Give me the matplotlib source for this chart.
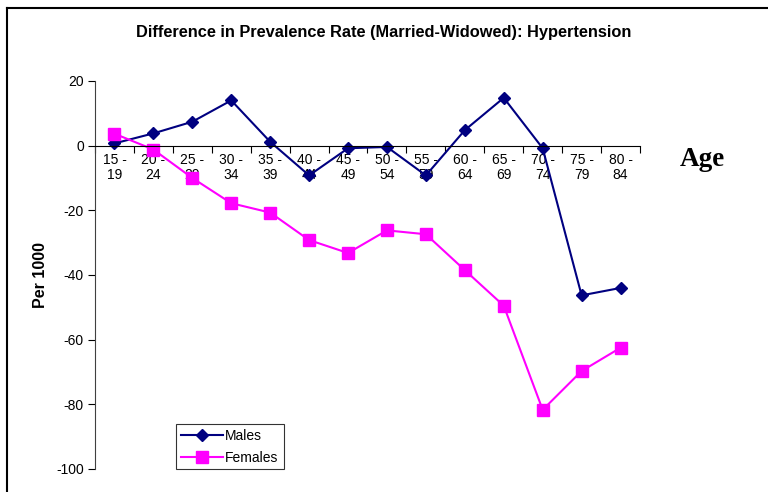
import matplotlib
matplotlib.use('Agg')
import matplotlib.pyplot as plt
from matplotlib.lines import Line2D

age_groups = ['15 -\n19', '20 -\n24', '25 -\n29', '30 -\n34', '35 -\n39', '40 -\n44', '45 -\n49',
              '50 -\n54', '55 -\n59', '60 -\n64', '65 -\n69', '70 -\n74', '75 -\n79', '80 -\n84']
males = [0.7, 3.8, 7.4, 14.0, 1.2, -9.2, -0.8, -0.4, -9.2, 4.8, 14.8, -0.8, -46.3, -44.0]
females = [3.7, -1.2, -10.0, -17.8, -20.7, -29.2, -33.2, -26.2, -27.4, -38.5, -49.5, -81.7, -69.7, -62.5]

plt.rcParams['font.family'] = ['Liberation Sans', 'DejaVu Sans']
plt.rcParams['axes.unicode_minus'] = False

fig = plt.figure(figsize=(7.68, 4.92), dpi=100)
W, H = 768, 492
ax = fig.add_axes([95 / W, 1 - 469 / H, (640 - 95) / W, (469 - 81) / H])

x = list(range(len(age_groups)))
ax.plot(x, males, color='#000080', marker='D', markersize=6, linewidth=1.5, label='Males')
ax.plot(x, females, color='#FF00FF', marker='s', markersize=8, linewidth=1.5, label='Females')

ax.set_xlim(-0.5, len(age_groups) - 0.5)
ax.set_ylim(-100, 20)
ax.set_yticks(range(-100, 21, 20))
ax.tick_params(axis='y', direction='out', length=5, width=0.8, labelsize=10, pad=3)

ax.spines['top'].set_visible(False)
ax.spines['right'].set_visible(False)
ax.spines['bottom'].set_position(('data', 0))
ax.spines['left'].set_color('#404040')

ax.set_xticks(x)
ax.set_xticklabels(age_groups, fontsize=10, linespacing=1.15)
ax.tick_params(axis='x', which='major', length=0, pad=5)
ax.set_xticks([i - 0.5 for i in range(len(age_groups) + 1)], minor=True)
ax.tick_params(axis='x', which='minor', direction='out', length=5, width=0.8)

ax.set_ylabel('Per 1000', fontsize=11.5, fontweight='bold', labelpad=6)
fig.text(0.5, 1 - 32 / H, 'Difference in Prevalence Rate (Married-Widowed): Hypertension',
         ha='center', va='center', fontsize=11.8, fontweight='bold')
fig.text(702 / W, 1 - 160 / H, 'Age', ha='center', va='center', fontsize=19.5,
         fontweight='bold', family='Liberation Serif')

leg = ax.legend(loc='upper left', bbox_to_anchor=((176 - 95) / 545, (469 - 424) / 388),
                borderaxespad=0, fontsize=10, frameon=True, fancybox=False, edgecolor='black',
                handlelength=3.0, borderpad=0.35, labelspacing=0.55, handletextpad=0.2)
leg.get_frame().set_linewidth(0.8)

# outer frame of the chart area
fig.add_artist(Line2D([7 / W, 1], [1 - 8 / H, 1 - 8 / H], color='black', linewidth=1.5))
fig.add_artist(Line2D([7 / W, 7 / W], [0, 1 - 8 / H], color='black', linewidth=1.5))

plt.savefig('out.png', dpi=100)
